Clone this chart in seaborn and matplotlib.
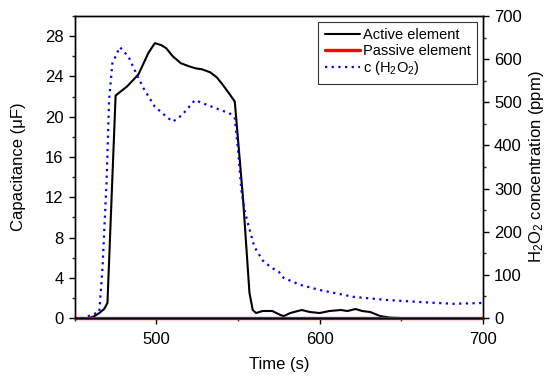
import matplotlib
matplotlib.use("Agg")
import matplotlib.pyplot as plt
import pandas as pd
import seaborn as sns
from matplotlib.ticker import MultipleLocator

sns.set_theme(style="ticks")
plt.rcParams["font.family"] = ["Liberation Sans", "DejaVu Sans"]
plt.rcParams["mathtext.fontset"] = "custom"
plt.rcParams["mathtext.rm"] = "Liberation Sans"
plt.rcParams["mathtext.it"] = "Liberation Sans:italic"
plt.rcParams["text.color"] = "black"
plt.rcParams["axes.labelcolor"] = "black"

# active element capacitance (uF)
active_t = [450, 459, 462, 465, 468, 470, 475, 482, 489, 495, 499, 503, 506, 510,
            515, 520, 524, 528, 533, 537, 540, 545, 548, 553, 557, 559, 561, 565,
            571, 576, 578, 582, 589, 594, 600, 606, 613, 617, 622, 626, 631, 637,
            643, 650, 700]
active_c = [0, 0, 0.2, 0.5, 0.9, 1.5, 22.1, 23.0, 24.2, 26.3, 27.3, 27.1, 26.8, 26.0,
            25.3, 25.0, 24.8, 24.7, 24.4, 23.9, 23.3, 22.2, 21.5, 12.0, 2.5, 0.8,
            0.5, 0.7, 0.7, 0.3, 0.2, 0.5, 0.8, 0.6, 0.5, 0.7, 0.8, 0.7, 0.9, 0.7,
            0.6, 0.2, 0.05, 0, 0]

# passive element capacitance (uF)
passive_t = [450, 700]
passive_c = [0, 0]

# H2O2 concentration (ppm)
h2o2_t = [450, 455, 465, 467, 469.5, 471, 473, 477.6, 483, 486, 492, 499, 506,
          510, 515.6, 523.6, 531, 538, 545, 548, 550, 552, 554, 556, 560, 565,
          570, 575, 578, 588, 600, 621, 641, 662, 682, 700]
h2o2_c = [0, 0, 14, 118, 320, 505, 590, 628, 605, 580, 533, 490, 467,
          455, 470, 505, 494, 484, 474, 463, 390, 297, 250, 220, 165, 134,
          118, 107, 93, 77, 65, 49, 42, 37, 33, 35]

df_active = pd.DataFrame({"t": active_t, "c": active_c})
df_passive = pd.DataFrame({"t": passive_t, "c": passive_c})
df_h2o2 = pd.DataFrame({"t": h2o2_t, "c": h2o2_c})

fig = plt.figure(figsize=(5.5, 3.8), dpi=100)
ax = fig.add_axes([0.136, 0.163, 0.742, 0.795])
ax2 = ax.twinx()

sns.lineplot(data=df_active, x="t", y="c", ax=ax, color="black", lw=1.5,
             label="Active element", legend=False)
sns.lineplot(data=df_passive, x="t", y="c", ax=ax, color="red", lw=2.4,
             label="Passive element", legend=False, clip_on=False, zorder=5)
sns.lineplot(data=df_h2o2, x="t", y="c", ax=ax2, color="blue", lw=1.6,
             linestyle=(0, (1, 2)), label="c (H$_2$O$_2$)", legend=False)

ax.set_xlim(450, 700)
ax.set_ylim(0, 30)
ax2.set_ylim(0, 700)
ax.xaxis.set_major_locator(MultipleLocator(100))
ax.xaxis.set_minor_locator(MultipleLocator(50))
ax.yaxis.set_major_locator(MultipleLocator(4))
ax.yaxis.set_minor_locator(MultipleLocator(2))
ax2.yaxis.set_major_locator(MultipleLocator(100))
ax2.yaxis.set_minor_locator(MultipleLocator(50))

for a in (ax, ax2):
    a.tick_params(which="major", direction="out", length=4, width=1,
                  labelsize=12, colors="black", pad=4)
    a.tick_params(which="minor", direction="out", length=2.5, width=1)
    for s in a.spines.values():
        s.set_visible(True)
        s.set_color("black")
        s.set_linewidth(1)
ax.tick_params(axis="x", which="both", pad=6)

ax.set_xlabel("Time (s)", fontsize=12, labelpad=7)
ax.set_ylabel("Capacitance (\u03bcF)", fontsize=12, labelpad=14)
ax2.set_ylabel("H$_2$O$_2$ concentration (ppm)", fontsize=12, labelpad=4)

h1, l1 = ax.get_legend_handles_labels()
h2, l2 = ax2.get_legend_handles_labels()
leg = ax2.legend(h1 + h2, l1 + l2, loc="upper right", fontsize=10.5,
                 frameon=True, fancybox=False, edgecolor="black",
                 borderaxespad=0.4, handlelength=2.4, handletextpad=0.2,
                 labelspacing=0.1, borderpad=0.45)
leg.get_frame().set_linewidth(0.8)
for txt in leg.get_texts():
    txt.set_color("black")

fig.savefig("out.png", dpi=100)
